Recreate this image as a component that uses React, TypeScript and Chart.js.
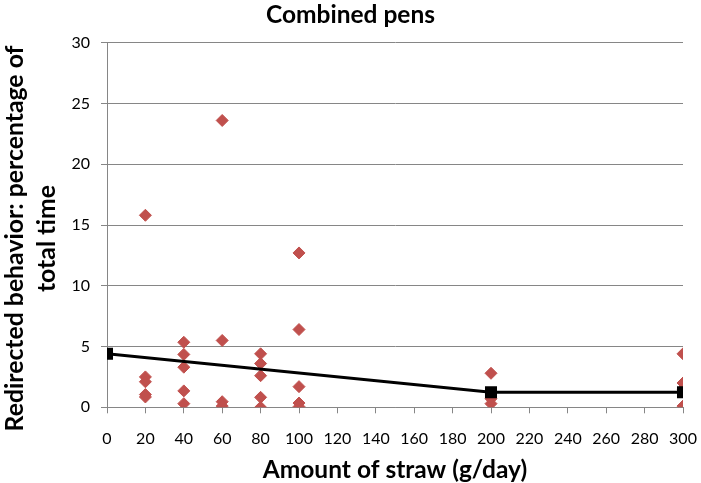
import React, { useEffect, useRef } from "react";
import { Chart, registerables } from "chart.js";

Chart.register(...registerables);

// Amount of straw (g/day) levels and individual observations (redirected behaviour, % of total time)
const straw20 = [15.8, 2.5, 2.1, 1.05, 0.85];
const straw40 = [5.35, 4.35, 3.3, 1.35, 0.3];
const straw60 = [23.6, 5.5, 0.46, 0.1];
const straw80 = [4.4, 3.6, 2.6, 0.82, 0.0];
const straw100 = [12.7, 6.4, 1.7, 0.35, 0.05];
const straw200 = [2.8, 0.7, 0.3];
const straw300 = [4.4, 2.0, 1.5, 0.1];

const strawLevels = [20, 40, 60, 80, 100, 200, 300];
const observations = [straw20, straw40, straw60, straw80, straw100, straw200, straw300];

// Fitted/mean line
const lineX = [0, 200, 300];
const lineY = [4.4, 1.23, 1.23];

const chartTitle = "Combined pens";
const xTitle = "Amount of straw (g/day)";
const yTitleLines = ["Redirected behavior: percentage of", "total time"];

const FONT = "Lato, 'Open Sans', sans-serif";
const GRID = "#868686";

const yTitlePlugin = {
  id: "yTitleTwoLines",
  afterDraw(chart: any) {
    const ctx = chart.ctx;
    ctx.save();
    ctx.font = `bold 24.8px ${FONT}`;
    ctx.fillStyle = "#000";
    ctx.textAlign = "center";
    ctx.textBaseline = "middle";
    ctx.translate(15, chart.height / 2 - 3);
    ctx.rotate(-Math.PI / 2);
    ctx.fillText(yTitleLines[0], 0, 0);
    ctx.fillText(yTitleLines[1], 0, 32);
    ctx.restore();
  },
};

export default function App() {
  const ref = useRef<HTMLCanvasElement | null>(null);

  useEffect(() => {
    if (!ref.current) return;
    const scatterData: { x: number; y: number }[] = [];
    strawLevels.forEach((lvl, i) => {
      observations[i].forEach((v) => scatterData.push({ x: lvl, y: v }));
    });
    const lineData = lineX.map((x, i) => ({ x, y: lineY[i] }));

    const chart = new Chart(ref.current, {
      type: "scatter",
      data: {
        datasets: [
          {
            type: "line",
            data: lineData,
            borderColor: "#000",
            backgroundColor: "#000",
            borderWidth: 3,
            pointStyle: "rect",
            pointRadius: 8.5,
            pointBorderWidth: 0,
            tension: 0,
            fill: false,
          } as any,
          {
            data: scatterData,
            backgroundColor: "#C0504D",
            borderColor: "#C0504D",
            pointStyle: "rectRot",
            pointRadius: 6,
            pointBorderWidth: 1,
          },
        ],
      },
      options: {
        animation: false,
        responsive: true,
        maintainAspectRatio: false,
        layout: { padding: 0 },
        plugins: {
          legend: { display: false },
          tooltip: { enabled: false },
          title: {
            display: true,
            text: chartTitle,
            color: "#000",
            font: { family: FONT, size: 24.5, weight: "bold", lineHeight: 1.2 },
            padding: { top: 0, bottom: 13.3 },
          },
        },
        scales: {
          x: {
            type: "linear",
            min: 0,
            max: 300,
            afterFit: (s: any) => {
              s.height = 75.7;
              s.paddingLeft = 0;
              s.paddingRight = 18;
            },
            ticks: {
              stepSize: 20,
              color: "#000",
              font: { family: FONT, size: 16 },
              padding: 16,
              maxRotation: 0,
            },
            grid: { display: true, drawOnChartArea: false, color: GRID, tickLength: 6, lineWidth: 1 },
            border: { color: GRID, width: 1 },
            title: {
              display: true,
              text: xTitle,
              color: "#000",
              font: { family: FONT, size: 24.5, weight: "bold", lineHeight: 1.05 },
              padding: { top: 0, bottom: 0 },
            },
          },
          y: {
            type: "linear",
            min: 0,
            max: 30,
            afterFit: (s: any) => {
              s.width = 107;
            },
            ticks: {
              stepSize: 5,
              color: "#000",
              font: { family: FONT, size: 16 },
              padding: 11,
            },
            grid: { color: GRID, tickLength: 6, lineWidth: 1 },
            border: { color: GRID, width: 1 },
          },
        },
      },
      plugins: [yTitlePlugin],
    });
    return () => chart.destroy();
  }, []);

  return (
    <div style={{ position: "fixed", left: 0, top: 0, width: 701, height: 483, background: "#fff" }}>
      <canvas ref={ref} />
    </div>
  );
}
